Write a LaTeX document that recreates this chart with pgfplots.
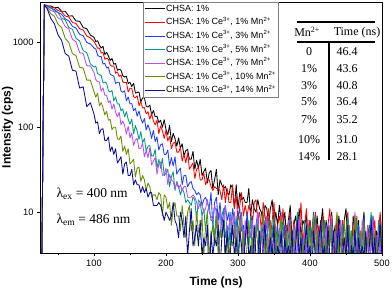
\documentclass[border=0pt]{standalone}
\usepackage{fontspec}
\setmainfont{Liberation Sans}
\newfontfamily\serif{Liberation Serif}
\usepackage{pgfplots}
\usepackage{pgfplotstable}
\pgfplotsset{compat=1.18}
\definecolor{cblue}{RGB}{30,60,255}
\definecolor{cteal}{RGB}{0,150,130}
\definecolor{cmag}{RGB}{180,80,240}
\definecolor{colive}{RGB}{100,140,0}
\definecolor{cnavy}{RGB}{10,10,150}
\pgfplotstableread{
x k r b t m o n
27 1 1 1 1 1 1 1
31 2800 2780 2650 2720 2700 2700 2780
35 2650 2750 2700 2650 2620 2540 2500
40 2700 2600 2540 2600 2380 2180 1920
45 2560 2580 2450 2330 2300 2040 1660
50 2600 2380 2250 2260 1940 1640 1230
55 2330 2300 2150 1930 1860 1500 1060
60 2330 2050 1900 1850 1540 1120 740
65 2050 2000 1800 1500 1440 1000 690
70 2060 1720 1550 1430 1090 740 470
75 1790 1680 1480 1120 1020 700 460
80 1780 1450 1250 1040 760 510 290
85 1500 1400 1200 800 740 500 300
90 1450 1190 1000 760 530 360 175
95 1220 1130 960 560 530 360 195
100 1152 1030 862 512 441 262 143
102.5 1026 947 840 526 366 227 112
105 1048 853 709 430 345 253 116
107.5 933 862 681 418 342 179 84
110 859 751 684 407 266 196 95
112.5 901 763 556 333 292 170 96
115 722 635 569 342 240 140 70
117.5 765 650 500 330 239 154 70
120 695 635 515 270 196 121 77
122.5 614 540 421 260 206 124 52
125 650 523 411 271 164 94 59
127.5 555 531 401 205 188 100 48
130 565 435 329 228 151 100 56
132.5 471 449 339 188 133 73 38
135 484 398 340 189 150 72 41
137.5 473 413 268 156 107 79 45
140 405 342 259 165 119 52 28
142.5 392 336 270 133 105 60 37
145 400 340 205 153 83 48 39
147.5 329 261 228 124 103 56 27
150 339 289 189 109 75 37 27
152.5 302 288 190 125 86 39 32
155 331 229 157 84 61 42 21
157.5 253 223 167 105 71 26 24
160 257 235 135 90 74 33 21
162.5 261 180 156 72 56 34 21
165 200 202 127 89 57 23 17
167.5 222 169 112 66 65 27 20
170 223 171 127 74 45 24 17
172.5 177 144 93 52 53 18 19
175 174 153 107 60 44 22 15
177.5 183 125 93 61 57 20 17
180 141 145 74 46 36 15 17
182.5 158 119 92 46 40 16 12
185 133 107 68 55 44 16 12
187.5 135 122 77 33 28 14 12
190 114 84 54 42 37 17 13
192.5 121 104 62 33 39 16 12
195 100 91 64 43 27 9 10
197.5 123 74 48 27 28 16 8
200 94 92 48 29 33 15 10
202.5 82 69 54 32 21 11 9
205 105 78 35 20 28 13 8
207.5 68 56 44 26 24 7 9
210 85 65 35 30 23 11 13
212.5 74 67 45 18 19 13 8
215 60 51 28 23 22 9 7
217.5 75 51 31 20 19 9 5
220 57 58 33 16 21 6 10
222.5 64 40 21 19 18 12 8
225 46 48 27 17 20 7 5
227.5 53 38 27 13 20 5 9
230 55 50 20 14 15 10 3
232.5 42 32 22 13 15 12 6
235 42 35 23 12 15 6 11
237.5 52 38 19 15 16 8 4
240 32 25 18 14 15 4 5
242.5 41 32 16 8 13 10 7
245 33 34 17 14 11 6 4
247.5 42 24 16 13 13 5 8
250 27 24 12 9 12 9 3
252.5 30 29 14 11 10 3 5
255 33 21 15 6 11 7 4
257.5 22 24 13 10 14 10 7
260 29 24 11 12 10 3 1
262.5 31 20 17 8 9 5 6
265 19 18 7 8 8 7 3
267.5 24 20 13 5 12 4 5
270 32 19 15 11 10 9 4
272.5 16 19 8 7 6 3 7
275 24 18 13 5 11 6 2
277.5 21 14 7 9 5 5 5
280 19 21 10 11 8 8 8
282.5 20 13 12 5 12 2 3
285 17 19 8 7 5 6 6
287.5 16 13 10 4 7 3 2
290 21 13 4 10 9 5 4
292.5 19 21 11 6 6 4 7
295 11 11 8 5 10 7 3
297.5 21 16 4 9 4 2 5
300 11 8 9 3 7 5 2
302.5 17 12 11 6 6 9 6
305 14 17 6 10 9 3 4
307.5 15 9 7 3 3 6 2
310 13 12 4 5 8 2 5
312.5 13 9 10 7 5 4 8
315 19 12 6 4 6 8 3
317.5 9 10 5 9 5 3 4
320 14 7 9 3 8 5 2
322.5 11 13 3 6 3 2 7
325 10 14 7 5 6 7 3
327.5 14 8 10 8 10 4 3
330 11 10 3 2 4 2 6
332.5 10 6 5 7 7 6 2
335 7 13 7 4 3 10 4
337.5 12 9 4 6 5 3 8
340 11 7 9 5 9 5 2
342.5 7 11 3 8 4 2 3
345 11 5 6 3 6 8 5
347.5 14 8 5 6 2 4 3
350 7 13 8 9 7 3 7
352.5 10 5 2 3 4 7 2
355 7 7 7 6 2 2 4
357.5 12 9 4 2 6 5 3
360 8 6 6 4 10 9 6
362.5 7 11 5 8 3 2 2
365 10 5 7 3 5 4 5
367.5 5 7 3 5 2 6 3
370 8 7 5 2 8 3 4
372.5 12 10 9 7 4 8 3
375 5 4 3 4 3 2 6
377.5 7 8 6 2 7 5 2
380 9 5 2 6 2 4 4
382.5 6 7 4 10 5 7 8
385 11 6 8 3 9 2 3
387.5 5 13 3 5 2 6 5
390 8 4 5 2 4 3 2
392.5 7 7 2 8 6 5 4
395 9 11 7 4 3 4 7
397.5 4 5 4 3 8 7 3
400 8 8 2 7 2 2 4
402.5 5 4 6 2 5 5 2
405 7 6 10 5 4 9 6
407.5 6 10 3 9 7 3 3
410 9 5 5 2 2 6 2
412.5 4 7 2 4 6 2 5
415 7 3 8 6 3 4 8
417.5 11 9 4 3 5 8 3
420 5 6 3 8 4 3 4
422.5 8 3 7 2 7 5 2
425 4 7 2 5 2 2 7
427.5 6 11 5 4 5 7 3
430 10 4 9 7 9 4 3
432.5 5 6 2 2 3 2 6
435 7 3 4 6 6 6 2
437.5 3 9 6 3 2 10 4
440 9 5 3 5 4 3 8
442.5 6 4 8 4 8 5 2
445 4 8 2 7 3 2 3
447.5 8 2 5 2 5 8 5
450 11 6 4 5 2 4 3
452.5 4 10 7 9 7 3 7
455 6 3 2 3 4 7 2
457.5 3 5 6 6 2 2 4
460 9 7 3 2 6 5 3
462.5 5 4 5 4 10 9 6
465 4 9 4 8 3 2 2
467.5 8 3 7 3 5 4 5
470 2 6 2 5 2 6 3
472.5 6 5 5 2 8 3 4
475 10 8 9 7 4 8 3
477.5 3 2 3 4 3 2 6
480 5 7 6 2 7 5 2
482.5 7 4 2 6 2 4 4
485 4 6 4 10 5 7 8
487.5 9 5 8 3 9 2 3
490 3 8 3 5 2 6 5
492.5 6 3 5 2 4 3 2
495 5 6 2 8 6 5 4
497.5 8 10 7 4 3 4 7
500 2 4 4 3 8 7 3
}\decay
\begin{document}
\begin{tikzpicture}
\begin{axis}[
  at={(0,0)}, anchor=south west,
  scale only axis, width=342pt, height=251pt,
  ymode=log, xmin=25, xmax=500, ymin=3.3, ymax=3000,
  /pgf/number format/assume math mode=true,
  xtick={100,200,300,400,500}, xticklabels={100,200,300,400,500},
  minor xtick={50,150,250,350,450},
  ytick={10,100,1000}, yticklabels={10,100,1000},
  yminorticks=false,
  tick align=outside, xtick pos=left, ytick pos=left,
  major tick length=3pt, minor tick length=2.5pt,
  every tick/.style={black, line width=0.6pt},
  axis line style={line width=0.7pt, black},
  tick label style={font=\fontsize{9.3}{11}\selectfont},
  xlabel={Time (ns)}, ylabel={Intensity (cps)},
  xlabel style={at={(axis description cs:0.515,-0.1155)}, anchor=center, font=\bfseries\fontsize{12}{14}\selectfont},
  ylabel style={at={(axis description cs:-0.095,0.5)}, anchor=center, font=\bfseries\fontsize{12}{14}\selectfont},
  legend style={at={(axis description cs:0.301,1)}, anchor=north west, draw=gray, line width=0.6pt,
    font=\fontsize{9}{10}\selectfont, inner sep=1pt, row sep=2.6pt,
    nodes={inner sep=1pt, text height=7pt, text depth=2pt}},
  legend cell align=left,
  legend image code/.code={\draw[#1, line width=0.9pt] (0pt,0pt) -- (20pt,0pt);},
  every axis plot/.append style={line width=0.85pt, line join=round},
]
\addplot[black] table[x=x, y=k] {\decay};
\addlegendentry{CHSA: 1\%}
\addplot[red] table[x=x, y=r] {\decay};
\addlegendentry{CHSA: 1\% Ce\textsuperscript{3+}, 1\% Mn\textsuperscript{2+}}
\addplot[cblue] table[x=x, y=b] {\decay};
\addlegendentry{CHSA: 1\% Ce\textsuperscript{3+}, 3\% Mn\textsuperscript{2+}}
\addplot[cteal] table[x=x, y=t] {\decay};
\addlegendentry{CHSA: 1\% Ce\textsuperscript{3+}, 5\% Mn\textsuperscript{2+}}
\addplot[cmag] table[x=x, y=m] {\decay};
\addlegendentry{CHSA: 1\% Ce\textsuperscript{3+}, 7\% Mn\textsuperscript{2+}}
\addplot[colive] table[x=x, y=o] {\decay};
\addlegendentry{CHSA: 1\% Ce\textsuperscript{3+}, 10\% Mn\textsuperscript{2+}}
\addplot[cnavy] table[x=x, y=n] {\decay};
\addlegendentry{CHSA: 1\% Ce\textsuperscript{3+}, 14\% Mn\textsuperscript{2+}}

\node[anchor=west, font=\serif\fontsize{13.5}{15}\selectfont] at (axis description cs:0.038,0.235) {λ\textsubscript{ex} = 400 nm};
\node[anchor=west, font=\serif\fontsize{13.5}{15}\selectfont] at (axis description cs:0.038,0.131) {λ\textsubscript{em} = 486 nm};

\draw[line width=1.2pt] (axis description cs:0.751,0.920) -- (axis description cs:0.980,0.920);
\draw[line width=1.8pt] (axis description cs:0.751,0.841) -- (axis description cs:0.980,0.841);
\draw[line width=1.6pt] (axis description cs:0.845,0.841) -- (axis description cs:0.845,0.370);
\begin{scope}[every node/.style={font=\serif\fontsize{12}{14}\selectfont, anchor=center}]
\node at (axis description cs:0.781,0.880) {Mn\textsuperscript{2+}};
\node at (axis description cs:0.927,0.880) {Time (ns)};
\node at (axis description cs:0.787,0.802) {0};
\node at (axis description cs:0.787,0.736) {1\%};
\node at (axis description cs:0.787,0.667) {3\%};
\node at (axis description cs:0.787,0.603) {5\%};
\node at (axis description cs:0.787,0.533) {7\%};
\node at (axis description cs:0.787,0.453) {10\%};
\node at (axis description cs:0.787,0.384) {14\%};
\node at (axis description cs:0.898,0.802) {46.4};
\node at (axis description cs:0.898,0.736) {43.6};
\node at (axis description cs:0.898,0.667) {40.8};
\node at (axis description cs:0.898,0.603) {36.4};
\node at (axis description cs:0.898,0.533) {35.2};
\node at (axis description cs:0.898,0.453) {31.0};
\node at (axis description cs:0.898,0.384) {28.1};
\end{scope}
\end{axis}
\pgfresetboundingbox
\path[use as bounding box] (-40pt,-37pt) rectangle (352pt,253pt);
\end{tikzpicture}
\end{document}
